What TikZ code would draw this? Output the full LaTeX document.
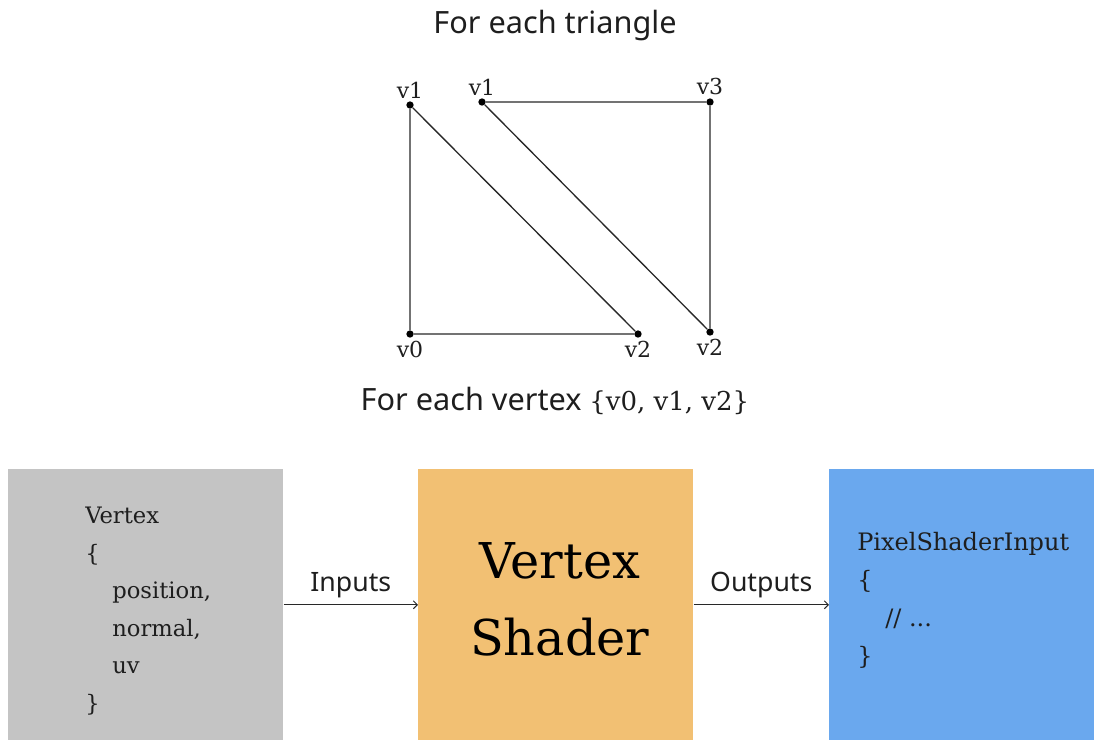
\documentclass[tikz,border=0pt]{standalone}
\usepackage{fontspec}
\setmainfont{DejaVu Serif}
\setsansfont{Noto Sans}
\usetikzlibrary{arrows.meta, positioning}
\definecolor{boxgray}{RGB}{196, 196, 196}
\definecolor{boxorange}{RGB}{242, 192, 115}
\definecolor{boxblue}{RGB}{106, 168, 238}
\definecolor{inkline}{RGB}{40, 40, 40}
\definecolor{inktext}{RGB}{30, 30, 30}

\begin{document}
\begin{tikzpicture}[
  x=0.75pt, y=-0.75pt,
  vdot/.style={circle, fill=black, inner sep=0pt, minimum size=5.5pt},
  vlab/.style={font=\fontsize{16.5}{20}\selectfont, text=inktext, inner sep=2pt},
  wire/.style={draw=inkline, line width=1pt},
  head/.style={font=\sffamily\fontsize{23}{27}\selectfont, text=inktext},
  panel/.style={anchor=north west, inner sep=0pt, minimum width=#1, minimum height=203.25pt},
  panel/.default=206.25pt,
  code/.style={anchor=north west, inner sep=0pt, align=left, text=inktext},
  flow/.style={-{Straight Barb[length=3pt, width=6pt]}, line width=0.75pt, inkline},
  arrlab/.style={font=\sffamily\fontsize{20}{24}\selectfont, text=inktext, above, inner sep=5pt}
]
\useasboundingbox (0,0) rectangle (1094,740);
% titre et triangles
\node[head] (titre) at (555,26) {For each triangle};
\node[vdot, label={[vlab]above:v1}] (a1) at (410,105) {};
\node[vdot, label={[vlab]below:v0}] (a0) at (410,334) {};
\node[vdot, label={[vlab]below:v2}] (a2) at (638,334) {};
\node[vdot, label={[vlab]above:v1}] (b1) at (482,102) {};
\node[vdot, label={[vlab]above:v3}] (b3) at (710,102) {};
\node[vdot, label={[vlab]below:v2}] (b2) at (710,332) {};
\draw[wire] (a1) -- (a0) -- (a2) -- (a1);
\draw[wire] (b1) -- (b3) -- (b2) -- (b1);
\node[head] (parvertex) at (555,401) {For each vertex \rmfamily\fontsize{19.5}{24}\selectfont\{v0, v1, v2\}};
% les trois blocs
\node[panel, fill=boxgray] (vin) at (8,469) {};
\node[panel, fill=boxorange, font=\fontsize{37}{57.75}\selectfont, align=center, text=black, text depth=9pt] (vsh) at (418,469) {\hspace*{6pt}Vertex\\\hspace*{6pt}Shader};
\node[panel=198.75pt, fill=boxblue] (vout) at (829,469) {};
\node[code, font=\fontsize{17}{28.1}\selectfont] (vintxt) at (85,507) {Vertex\\\{\\\hspace*{20.25pt}position,\\\hspace*{20.25pt}normal,\\\hspace*{20.25pt}uv\\\}};
\node[code, font=\fontsize{18}{28.5}\selectfont] (vouttxt) at (857,532) {PixelShaderInput\\\{\\\hspace*{21pt}// ...\\\}};
% fleches
\draw[flow] (vin) -- node[arrlab] {Inputs} (vsh);
\draw[flow] (vsh) -- node[arrlab] {Outputs} (vout);
\end{tikzpicture}
\end{document}
